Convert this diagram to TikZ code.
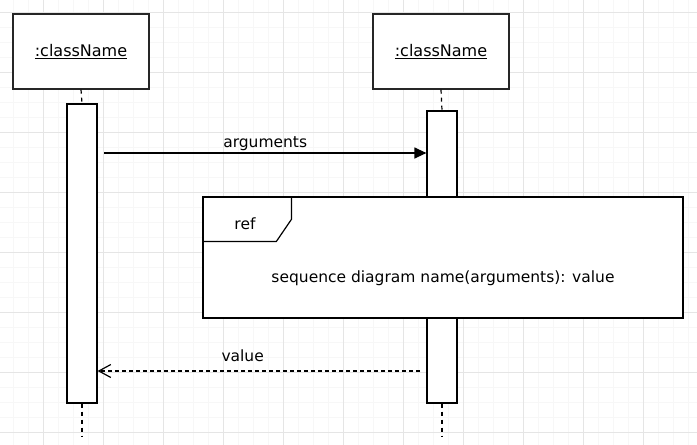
\documentclass[tikz,border=0pt]{standalone}
\usepackage{fontspec}
\setmainfont{DejaVu Sans}
\usetikzlibrary{arrows.meta}

\tikzset{
  minorgrid/.style={draw=black!3, line width=0.8pt},
  majorgrid/.style={draw=black!10, line width=0.8pt},
  objbox/.style={draw=black!85, fill=white, line width=1.2pt, minimum width=136pt, minimum height=75pt, inner sep=0pt},
  actbox/.style={draw=black, fill=white, line width=1.2pt, minimum width=30pt, inner sep=0pt},
  lifeline/.style={black, line width=1.2pt, dash pattern=on 4pt off 4pt},
  msgcall/.style={black, line width=1.2pt, -{Triangle[length=12pt,width=11pt]}},
  msgret/.style={black, line width=1.2pt, dash pattern=on 4pt off 3pt, -{Straight Barb[length=12pt,width=13pt,line width=1.2pt]}},
  lbl/.style={font=\fontsize{15.5}{18}\selectfont, inner sep=1pt}
}

\begin{document}
\begin{tikzpicture}[x=1pt,y=-1pt]
	\useasboundingbox (0,0) rectangle (697,445);
	\fill[white] (0,0) rectangle (697,445);
	% grid
	\foreach \gx in {13,28,...,697} \draw[minorgrid] (\gx,0) -- (\gx,445);
	\foreach \gy in {12,27,...,445} \draw[minorgrid] (0,\gy) -- (697,\gy);
	\foreach \gx in {43,103,...,697} \draw[majorgrid] (\gx,0) -- (\gx,445);
	\foreach \gy in {12,72,...,445} \draw[majorgrid] (0,\gy) -- (697,\gy);

	% objects
	\node[objbox, font=\fontsize{16}{18}\selectfont] (objA) at (81,51.5) {\underline{:className}};
	\node[objbox, font=\fontsize{16}{18}\selectfont] (objB) at (441,51.5) {\underline{:className}};

	% activations
	\node[actbox, minimum height=299pt] (actA) at (82,253.5) {};
	\node[actbox, minimum height=292pt] (actB) at (442,257) {};
	\coordinate (endA) at (82,436);
	\coordinate (endB) at (442,436);

	\draw[lifeline] (objA.south) -- (actA.north);
	\draw[lifeline] (objB.south) -- (actB.north);
	\draw[lifeline] (actA.south) -- (endA);
	\draw[lifeline] (actB.south) -- (endB);

	% call
	\coordinate (callA) at (104,153);
	\draw[msgcall] (callA) -- (actB.west |- callA) node[lbl, midway, above=1pt] {arguments};

	% ref frame
	\node[draw=black, fill=white, line width=1.2pt, minimum width=480pt, minimum height=121pt, inner sep=0pt] (refbox) at (443,257.5) {};
	\draw[line width=1.2pt] (refbox.north west) ++(89,0) -- ++(0,23) -- ++(-15,22) -- ++(-74,0);
	\node[lbl] (reftag) at (245,224) {ref};
	\node[lbl] (refname) at (443,278) {sequence diagram name(arguments): value};

	% return
	\coordinate (retB) at (420,371);
	\draw[msgret] (retB) -- (actA.east |- retB) node[lbl, pos=0.55, above=8pt] {value};
\end{tikzpicture}
\end{document}
